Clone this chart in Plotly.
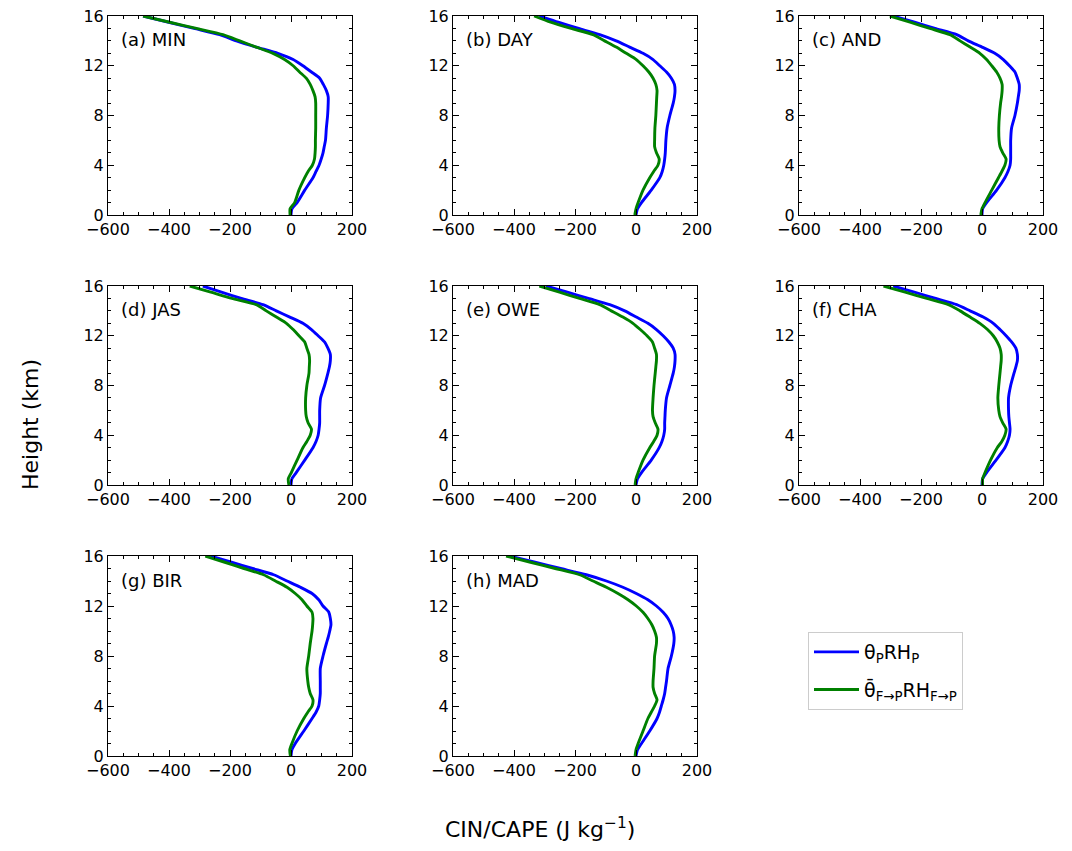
import plotly.graph_objects as go

heights = [0, 0.5, 1, 2, 3, 3.5, 4, 4.5, 5, 5.5, 6, 7, 8, 9, 9.5, 10, 10.5, 11, 11.5, 12,
           12.5, 13, 13.5, 14, 14.5, 15, 15.5, 16]

panel_labels = ["(a) MIN", "(b) DAY", "(c) AND", "(d) JAS", "(e) OWE", "(f) CHA", "(g) BIR", "(h) MAD"]

min_p = [0, 3, 20, 45, 72, 82, 92, 99, 105, 109, 113, 116, 120, 122, 122, 116, 106, 94, 67, 39,
         7, -43, -114, -179, -234, -318, -401, -485]
min_f = [-3, -3, 12, 26, 45, 56, 70, 77, 79, 80, 80, 81, 81, 81, 79, 72, 63, 50, 28, 7,
         -21, -59, -114, -168, -223, -310, -398, -485]

day_p = [0, 5, 18, 50, 78, 86, 91, 94, 96, 97, 98, 102, 111, 122, 126, 128, 126, 116, 100, 78,
         56, 23, -21, -65, -119, -188, -255, -317]
day_f = [-4, 0, 7, 23, 45, 58, 72, 76, 67, 61, 61, 62, 65, 67, 68, 69, 65, 56, 42, 23,
         1, -32, -65, -103, -141, -213, -280, -334]

and_p = [0, 2, 15, 48, 75, 85, 92, 94, 94, 94, 94, 97, 108, 116, 119, 122, 122, 116, 108, 90,
         70, 42, 0, -45, -83, -154, -221, -291]
and_f = [-4, 0, 10, 32, 54, 65, 75, 79, 68, 59, 56, 55, 57, 61, 64, 66, 66, 59, 48, 32,
         15, -7, -39, -72, -105, -171, -236, -302]

jas_p = [0, 3, 17, 45, 72, 82, 89, 92, 94, 94, 94, 97, 110, 121, 126, 129, 129, 121, 110, 89,
         67, 39, -4, -48, -92, -163, -228, -289]
jas_f = [-7, -9, 1, 20, 39, 52, 63, 67, 56, 50, 48, 48, 52, 59, 60, 61, 59, 52, 45, 26,
         7, -15, -48, -81, -114, -194, -263, -332]

owe_p = [0, 5, 18, 50, 76, 85, 91, 94, 94, 95, 96, 100, 111, 122, 126, 128, 128, 122, 108, 89,
         67, 39, 1, -37, -86, -156, -225, -295]
owe_f = [-3, 0, 7, 23, 45, 58, 69, 72, 63, 56, 54, 56, 59, 63, 65, 67, 67, 61, 54, 36,
         14, -10, -43, -81, -119, -185, -251, -317]

cha_p = [0, 2, 15, 46, 75, 84, 90, 92, 90, 88, 87, 87, 94, 105, 111, 116, 116, 111, 97, 79,
         59, 37, 4, -39, -83, -152, -222, -291]
cha_f = [2, 2, 10, 28, 50, 65, 75, 79, 68, 59, 55, 52, 55, 59, 61, 63, 63, 59, 50, 37,
         18, -7, -39, -72, -110, -181, -252, -323]

bir_p = [0, 3, 14, 42, 69, 82, 91, 94, 96, 96, 96, 96, 105, 116, 122, 127, 131, 129, 124, 105,
         91, 69, 31, -13, -57, -126, -195, -264]
bir_f = [-2, -4, 3, 20, 42, 55, 69, 72, 63, 58, 55, 52, 58, 63, 66, 69, 71, 72, 69, 52,
         36, 14, -13, -51, -90, -154, -217, -281]

mad_p = [0, 5, 18, 45, 69, 77, 83, 89, 94, 97, 100, 105, 116, 124, 125, 122, 115, 105, 89, 67,
         39, 1, -43, -97, -163, -247, -331, -415]
mad_f = [-3, 0, 7, 23, 39, 50, 61, 69, 61, 56, 56, 59, 61, 67, 67, 61, 52, 39, 23, 1,
         -26, -59, -97, -141, -185, -265, -346, -426]

series_p = [min_p, day_p, and_p, jas_p, owe_p, cha_p, bir_p, mad_p]
series_f = [min_f, day_f, and_f, jas_f, owe_f, cha_f, bir_f, mad_f]

x_ticks = [-600, -400, -200, 0, 200]
y_ticks = [0, 4, 8, 12, 16]

W, H = 1072, 851
col_px = [(108, 352), (453, 697), (799, 1043)]
row_px = [(16, 215), (286, 485), (556, 756)]

fig = go.Figure()
FONT = "DejaVu Sans"
BLUE = "#0000ff"
GREEN = "#008000"

for i in range(8):
    r, c = divmod(i, 3)
    idx = "" if i == 0 else str(i + 1)
    xa, ya = "x" + idx, "y" + idx
    fig.add_trace(go.Scatter(x=series_p[i], y=heights, mode="lines", xaxis=xa, yaxis=ya,
                             line=dict(color=BLUE, width=2.9, shape="spline", smoothing=0.6),
                             name="θ<sub>P</sub>RH<sub>P</sub>", legendgroup="p",
                             showlegend=(i == 0)))
    fig.add_trace(go.Scatter(x=series_f[i], y=heights, mode="lines", xaxis=xa, yaxis=ya,
                             line=dict(color=GREEN, width=2.9, shape="spline", smoothing=0.6),
                             name="θ\u0304<sub>F→P</sub>RH<sub>F→P</sub>", legendgroup="f",
                             showlegend=(i == 0)))
    x0, x1 = col_px[c]
    y0, y1 = row_px[r]
    common = dict(showline=True, linecolor="black", linewidth=1, mirror="allticks",
                  ticks="inside", ticklen=6, tickwidth=1, tickcolor="black",
                  showgrid=False, zeroline=False, automargin=False,
                  tickfont=dict(family=FONT, size=16, color="black"))
    fig.layout["xaxis" + idx] = dict(domain=[x0 / W, x1 / W], anchor=ya, range=[-600, 200],
                                     tickvals=x_ticks,
                                     minor=dict(dtick=50, tick0=0, ticks="inside", ticklen=3,
                                                tickcolor="black", showgrid=False),
                                     **common)
    fig.layout["yaxis" + idx] = dict(domain=[1 - y1 / H, 1 - y0 / H], anchor=xa, range=[0, 16],
                                     tickvals=y_ticks,
                                     minor=dict(dtick=1, tick0=0, ticks="inside", ticklen=3,
                                                tickcolor="black", showgrid=False),
                                     **common)
    fig.add_annotation(text=panel_labels[i], xref=xa + " domain", yref=ya + " domain",
                       x=0.045, y=0.88, xanchor="left", yanchor="middle", showarrow=False,
                       font=dict(family=FONT, size=18, color="black"))

fig.add_annotation(text="Height (km)", xref="paper", yref="paper", x=30 / W, y=1 - 425 / H,
                   textangle=-90, showarrow=False, xanchor="center", yanchor="middle",
                   font=dict(family=FONT, size=22, color="black"))
fig.add_annotation(text="CIN/CAPE (J kg<sup>−1</sup>)", xref="paper", yref="paper",
                   x=540 / W, y=1 - 828 / H, showarrow=False, xanchor="center", yanchor="middle",
                   font=dict(family=FONT, size=22, color="black"))

fig.update_layout(
    width=W, height=H,
    margin=dict(l=0, r=0, t=0, b=0, autoexpand=False),
    paper_bgcolor="white", plot_bgcolor="white",
    font=dict(family=FONT, size=16, color="black"),
    legend=dict(x=808 / W, y=1 - 632 / H, xanchor="left", yanchor="top",
                bgcolor="white", bordercolor="#cccccc", borderwidth=1,
                font=dict(family=FONT, size=19, color="black"), itemwidth=45),
)

fig.write_html("out.html", config={"displayModeBar": False},
               post_script="document.body.style.margin='0';")
